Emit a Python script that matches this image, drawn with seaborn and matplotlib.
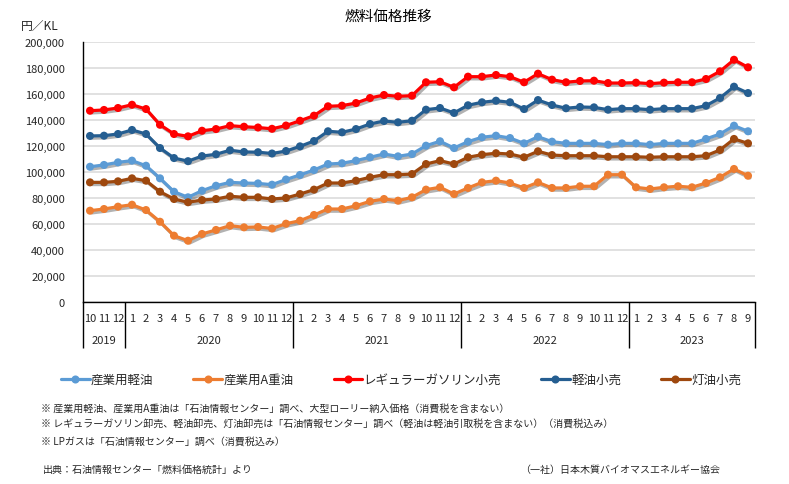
import numpy as np
import pandas as pd
import matplotlib
matplotlib.use("Agg")
import matplotlib.pyplot as plt
import matplotlib.patheffects as pe
from matplotlib.lines import Line2D
from matplotlib.ticker import MultipleLocator, FuncFormatter
import seaborn as sns

# ---------------- data ----------------
month_labels = ["10", "11", "12",
                "1", "2", "3", "4", "5", "6", "7", "8", "9", "10", "11", "12",
                "1", "2", "3", "4", "5", "6", "7", "8", "9", "10", "11", "12",
                "1", "2", "3", "4", "5", "6", "7", "8", "9", "10", "11", "12",
                "1", "2", "3", "4", "5", "6", "7", "8", "9"]
years = ["2019", "2020", "2021", "2022", "2023"]
months_per_year = [3, 12, 12, 12, 9]

series_names = ["産業用軽油", "産業用A重油", "レギュラーガソリン小売", "軽油小売", "灯油小売"]
series_colors = ["#5B9BD5", "#ED7D31", "#FF0000", "#255E91", "#9E480E"]

ind_diesel = [103800, 105200, 107200, 108500, 104600, 94900, 84600, 80300, 85400, 89200, 91800, 91300,
              91000, 90000, 94000, 97500, 101300, 105900, 106500, 108500, 111100, 113600, 111800, 113600,
              120000, 123400, 118200, 123100, 126500, 127700, 125900, 121800, 126900, 123100, 121800, 121800,
              121800, 120800, 121800, 121800, 120800, 121800, 121800, 121800, 125200, 129000, 135400, 131100]
heavy_a = [70000, 71300, 73100, 74600, 70500, 61500, 50800, 46900, 52100, 55200, 58500, 57200,
           57500, 56300, 60000, 62300, 66700, 71300, 71300, 73800, 77200, 79000, 77700, 80300,
           86200, 88000, 82800, 87500, 91800, 93100, 91300, 87500, 91800, 87500, 87500, 88800,
           88800, 97700, 97700, 88000, 86700, 88000, 88800, 88000, 91300, 95700, 102100, 96900]
gasoline = [146900, 147500, 149000, 151500, 148200, 136100, 129000, 127200, 131500, 132800, 135400, 134600,
            134000, 133000, 135500, 139200, 143100, 150300, 150800, 152800, 156700, 159000, 158000, 158500,
            168800, 169200, 164900, 173100, 173100, 174400, 173100, 168800, 175400, 170800, 168800, 169800,
            170000, 168200, 168200, 168500, 167700, 168500, 168800, 168800, 171300, 177200, 186100, 180300]
diesel_retail = [127500, 127700, 129000, 132100, 129000, 118200, 110500, 108100, 112000, 113400, 116500, 115200,
                 115000, 114000, 115900, 119500, 123600, 131100, 130300, 132800, 136700, 139000, 138000, 139200,
                 147700, 149000, 145200, 151100, 153400, 154600, 153400, 148200, 155100, 151300, 148800, 149800,
                 149500, 147700, 148500, 148500, 147700, 148500, 148500, 148500, 150800, 156700, 165400, 160500]
kerosene = [91800, 91800, 92600, 94900, 93100, 84600, 79000, 76500, 78200, 79000, 81100, 80300,
            80300, 79000, 79800, 82800, 86200, 91300, 91300, 93100, 95700, 97700, 97700, 98200,
            105900, 108500, 105900, 111100, 113100, 114200, 113600, 111100, 115700, 112800, 112300, 112300,
            112300, 111500, 111500, 111500, 111100, 111500, 111500, 111500, 112300, 116700, 125200, 121800]

all_values = [ind_diesel, heavy_a, gasoline, diesel_retail, kerosene]

# ---------------- style ----------------
sns.set_theme(style="white")
plt.rcParams["font.family"] = ["Noto Sans CJK JP", "DejaVu Sans"]
TXT = "#262626"

W, H = 789, 485
fig = plt.figure(figsize=(W / 100, H / 100), dpi=100)
ax_left, ax_right, ax_top, ax_bot = 83, 755, 42.7, 302.7
ax = fig.add_axes([ax_left / W, 1 - ax_bot / H, (ax_right - ax_left) / W, (ax_bot - ax_top) / H])

n = len(month_labels)
df = pd.concat([
    pd.DataFrame({"idx": np.arange(n), "value": vals, "series": name})
    for name, vals in zip(series_names, all_values)
], ignore_index=True)

sns.lineplot(data=df, x="idx", y="value", hue="series", hue_order=series_names,
             palette=series_colors, marker="o", markersize=5.8, markeredgewidth=0,
             linewidth=2.3, errorbar=None, sort=False, legend=False, ax=ax)

for ln in ax.lines:
    ln.set_path_effects([pe.SimpleLineShadow(offset=(1.4, -1.6), shadow_color="black", alpha=0.3),
                         pe.Normal()])

ax.set_xlim(-0.5, n - 0.5)
ax.set_ylim(0, 200000)
ax.yaxis.set_major_locator(MultipleLocator(20000))
ax.yaxis.set_major_formatter(FuncFormatter(lambda v, p: f"{v:,.0f}"))
ax.grid(axis="y", color="#d9d9d9", linewidth=1.1)
ax.grid(axis="x", visible=False)
ax.set_axisbelow(True)
ax.set_xlabel("")
ax.set_ylabel("")
ax.set_xticks([])
ax.tick_params(axis="y", length=0, pad=13, labelsize=8, labelcolor=TXT)
for s in ["top", "right"]:
    ax.spines[s].set_visible(False)
for s in ["left", "bottom"]:
    ax.spines[s].set_visible(True)
    ax.spines[s].set_color("black")
    ax.spines[s].set_linewidth(1.0)

# month and year labels below the axis
ph = ax_bot - ax_top
y_month = -(319.5 - ax_bot) / ph
y_year = -(341.5 - ax_bot) / ph
y_div = -(348.5 - ax_bot) / ph
trans = ax.get_xaxis_transform()
for i, lab in enumerate(month_labels):
    ax.text(i, y_month, lab, transform=trans, ha="center", va="center", fontsize=8, color=TXT)

bounds = [-0.5]
for m in months_per_year:
    bounds.append(bounds[-1] + m)
ax.vlines(bounds, y_div, 0, transform=trans, colors="black", linewidth=1.0, clip_on=False)
for k, yr in enumerate(years):
    ax.text((bounds[k] + bounds[k + 1]) / 2, y_year, yr, transform=trans,
            ha="center", va="center", fontsize=8, color=TXT)

# titles
fig.text(388 / W, 1 - 17 / H, "燃料価格推移", ha="center", va="center", fontsize=10.5, color="black")
fig.text(21 / W, 1 - 26 / H, "円／KL", ha="left", va="center", fontsize=8.5, color=TXT)

# legend
handles = [Line2D([], [], color=c, lw=2.3, marker="o", markersize=5.8, markeredgewidth=0)
           for c in series_colors]
fig.legend(handles, series_names, loc="center", bbox_to_anchor=(401 / W, 1 - 380.7 / H),
           ncol=5, frameon=False, fontsize=9, handlelength=2.3, handletextpad=0.1,
           columnspacing=3.2, borderpad=0, labelcolor=TXT)

# notes
notes = [
    "※ 産業用軽油、産業用A重油は「石油情報センター」調べ、大型ローリー納入価格（消費税を含まない）",
    "※ レギュラーガソリン卸売、軽油卸売、灯油卸売は「石油情報センター」調べ（軽油は軽油引取税を含まない）（消費税込み）",
    "※ LPガスは「石油情報センター」調べ（消費税込み）",
]
for txt, yy in zip(notes, [410, 424, 441.5]):
    fig.text(41 / W, 1 - yy / H, txt, ha="left", va="center", fontsize=7.2, color=TXT)
fig.text(43 / W, 1 - 469.5 / H, "出典：石油情報センター「燃料価格統計」より", ha="left", va="center",
         fontsize=7.2, color=TXT)
fig.text(520 / W, 1 - 469.5 / H, "（一社）日本木質バイオマスエネルギー協会", ha="left", va="center",
         fontsize=7.2, color=TXT)

fig.savefig("out.png", dpi=100)
